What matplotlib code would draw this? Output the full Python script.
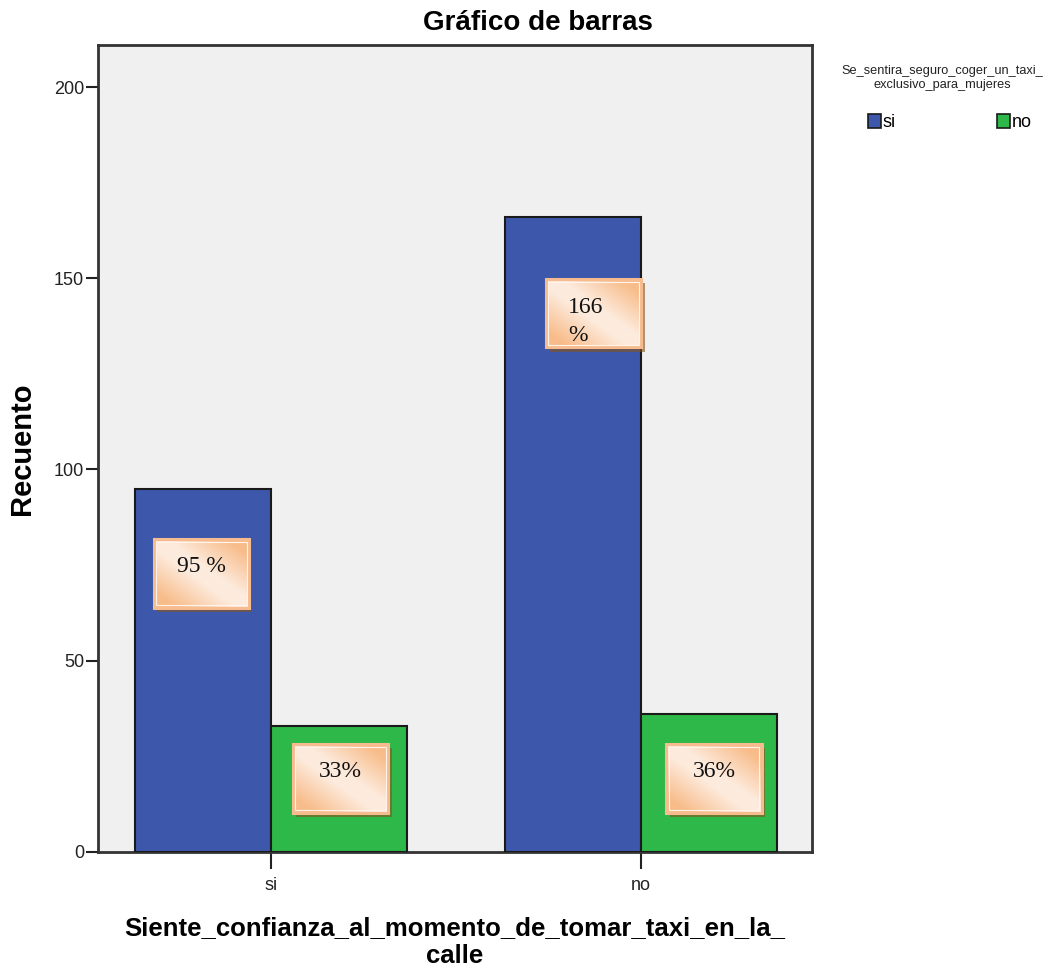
import numpy as np
import matplotlib
matplotlib.use("Agg")
import matplotlib.pyplot as plt
from matplotlib.patches import Rectangle

# ---- data ----
categories = ["si", "no"]
series_names = ["si", "no"]
values_si = [95, 166]
values_no = [33, 36]
box_labels = ["95 %", "33%", "166\n%", "36%"]
yticks = [0, 50, 100, 150, 200]
title = "Gráfico de barras"
xlabel = "Siente_confianza_al_momento_de_tomar_taxi_en_la_\ncalle"
ylabel = "Recuento"
legend_title = "Se_sentira_seguro_coger_un_taxi_\nexclusivo_para_mujeres"

# ---- style ----
blue = "#3D58AB"
green = "#2EB84A"
bg = "#F0F0F0"
sans = ["Liberation Sans", "DejaVu Sans"]
serif = ["Liberation Serif", "DejaVu Serif"]

fig = plt.figure(figsize=(10.58, 9.75), dpi=100)
ax = fig.add_axes([0.0926, 0.1262, 0.6749, 0.8277])
ax.set_facecolor(bg)

x = np.arange(len(categories))
w = 0.368
b1 = ax.bar(x - w / 2, values_si, w, color=blue, edgecolor="#1a1a1a", linewidth=1.5, zorder=3, label=series_names[0])
b2 = ax.bar(x + w / 2, values_no, w, color=green, edgecolor="#1a1a1a", linewidth=1.5, zorder=3, label=series_names[1])

ax.set_yticks(yticks)
ax.set_xticks(x)
ax.set_xticklabels(categories)
ax.tick_params(axis="y", length=9, width=1.5, pad=1, labelsize=13, colors="#222222", direction="out")
ax.tick_params(axis="x", length=12, width=1.5, pad=6, labelsize=13, direction="out", colors="#222222")
for lab in ax.get_yticklabels() + ax.get_xticklabels():
    lab.set_family(sans)
for s in ax.spines.values():
    s.set_color("#333333")
    s.set_linewidth(2)

# ---- label boxes (layout: centre x, bottom y in data units) ----
box_layout = [(-0.188, 63.9), (0.188, 10.2), (0.872, 131.9), (1.197, 10.2)]
bw, bh = 0.257, 18.0
light = np.array([0xFD, 0xEB, 0xDD]) / 255
peach = np.array([0xF8, 0xBC, 0x8A]) / 255
n = 120
gx, gt = np.meshgrid(np.linspace(0, 1, n), np.linspace(0, 1, n))
d = np.clip((np.abs(gx - gt) - 0.12) / 0.65, 0, 1)
grad = light[None, None, :] + (peach - light)[None, None, :] * d[..., None]

for (cx, by), txt in zip(box_layout, box_labels):
    x0 = cx - bw / 2
    ax.add_patch(Rectangle((x0 + 0.009, by - 1.1), bw, bh, facecolor="#865219", alpha=0.6,
                           edgecolor="none", zorder=4))
    ax.imshow(grad, extent=(x0, x0 + bw, by, by + bh), origin="upper", aspect="auto",
              zorder=5, interpolation="bilinear")
    ax.add_patch(Rectangle((x0, by), bw, bh, facecolor="none", edgecolor="#F6BB8E",
                           linewidth=2.2, zorder=6))
    ax.add_patch(Rectangle((x0 + 0.006, by + 0.75), bw - 0.012, bh - 1.5, facecolor="none",
                           edgecolor="#FFF3EA", linewidth=0.8, zorder=6))
    if "\n" in txt:
        t = ax.text(cx - 0.022, by + 13.1, txt, family=serif, fontsize=17, ha="center", va="top",
                    multialignment="left", linespacing=1.42, zorder=7, color="#111111")
        clip = Rectangle((x0, by + 2.9), bw, bh - 2.9, transform=ax.transData,
                         facecolor="none", edgecolor="none")
        ax.add_patch(clip)
        t.set_clip_path(clip)
    else:
        ax.text(cx, by + bh * 0.6, txt, family=serif, fontsize=17, ha="center", va="center",
                zorder=7, color="#111111")

ax.set_xlim(-0.468, 1.462)
ax.set_ylim(0, 211)

ax.set_ylabel(ylabel, family=sans, fontsize=21, fontweight="bold", labelpad=13)
ax.set_xlabel(xlabel, family=sans, fontsize=18.5, fontweight="bold", labelpad=16, linespacing=1.22)
fig.text(0.508, 0.976, title, family=sans, fontsize=20, fontweight="bold", ha="center", va="center")

fig.text(0.891, 0.920, legend_title, family=sans, fontsize=9.2, ha="center", va="center",
         multialignment="center", linespacing=1.2, color="#222222")
leg = fig.legend(handles=[b1, b2], labels=series_names, loc="center left",
                 bbox_to_anchor=(0.805, 0.874), ncol=2, frameon=False,
                 prop={"family": sans, "size": 13},
                 handlelength=0.7, handleheight=0.75, handletextpad=0.12, columnspacing=5.6)
for p in leg.get_patches():
    p.set_linewidth(1.2)

fig.savefig("out.png", dpi=100, facecolor="white")
